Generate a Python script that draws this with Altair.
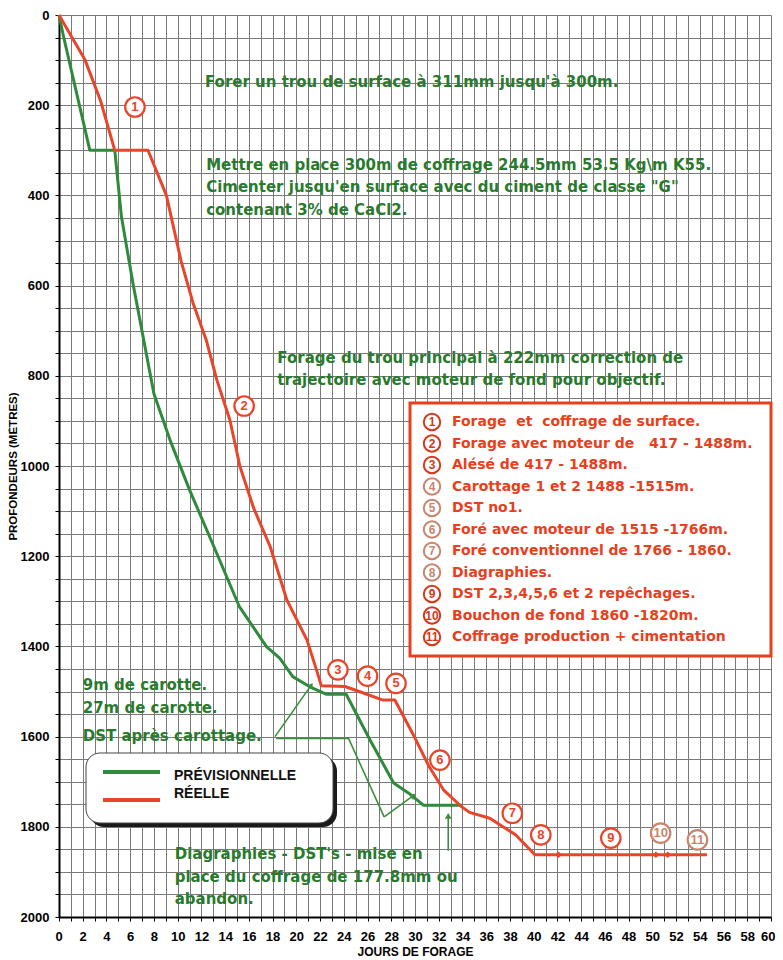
import math
import altair as alt
import pandas as pd

# ---------------- data ----------------
series_names = ["PRÉVISIONNELLE", "RÉELLE"]
series_colors = ["#2e8b3c", "#e8452a"]

green_days = [0, 0.4, 2.6, 4.7, 5.26, 6.23, 8.0, 9.35, 11.0, 13.3, 15.2, 17.5,
              18.6, 19.7, 21.1, 22.5, 24.2, 26.2, 28.2, 29.5, 30.7, 34.0]
green_depth = [0, 50, 300, 300, 447, 595, 840, 942, 1053, 1194, 1312, 1401,
               1426, 1467, 1489, 1506, 1506, 1607, 1703, 1726, 1752, 1752]

red_days = [0, 2.2, 3.5, 4.7, 7.5, 9.05, 10.3, 11.3, 12.4, 13.3, 14.4, 15.25,
            16.4, 17.8, 19.2, 20.9, 21.7, 22.1, 24.1, 25.3, 27.3, 28.3, 29.8,
            31.2, 32.4, 33.9, 34.6, 36.3, 38.5, 40.1, 54.6]
red_depth = [0, 100, 190, 300, 300, 400, 547, 639, 720, 809, 898, 1001,
             1093, 1179, 1297, 1386, 1452, 1487, 1489, 1500, 1519, 1519, 1593,
             1667, 1718, 1755, 1768, 1781, 1818, 1862, 1862]

# markers on the final red segment
red_mark_days = [42.1, 50.3, 51.3]
red_mark_depth = [1862, 1862, 1862]

x_ticks = list(range(0, 61))
y_ticks = list(range(0, 2001, 50))

# circled milestones placed on the chart
milestone_num = [str(i) for i in range(1, 12)]
milestone_day = [6.4, 15.6, 23.5, 26.0, 28.4, 32.1, 38.2, 40.6, 46.5, 50.7, 53.8]
milestone_depth = [204, 867, 1452, 1466, 1482, 1652, 1770, 1818, 1825, 1814, 1829]
milestone_faded = [0, 0, 0, 0, 0, 0, 0, 0, 0, 1, 1]

# notes list (red box)
note_texts = [
    "Forage\u00a0 et\u00a0 coffrage de surface.",
    "Forage avec moteur de\u00a0\u00a0 417 - 1488m.",
    "Alésé de 417 - 1488m.",
    "Carottage 1 et 2 1488 -1515m.",
    "DST no1.",
    "Foré avec moteur de 1515 -1766m.",
    "Foré conventionnel de 1766 - 1860.",
    "Diagraphies.",
    "DST 2,3,4,5,6 et 2 repêchages.",
    "Bouchon de fond 1860 -1820m.",
    "Coffrage production + cimentation",
]
note_faded = [0, 0, 0, 1, 1, 1, 1, 1, 0, 0, 0]

# green comments
green_notes = [
    "Forer un trou de surface à 311mm jusqu'à 300m.",
    "Mettre en place 300m de coffrage 244.5mm 53.5 Kg\\m K55.",
    "Cimenter jusqu'en surface avec du ciment de classe \"G\"",
    "contenant 3% de CaCl2.",
    "Forage du trou principal à 222mm correction de",
    "trajectoire avec moteur de fond pour objectif.",
    "9m de carotte.",
    "27m de carotte.",
    "DST après carottage.",
    "Diagraphies - DST's - mise en",
    "place du coffrage de 177.8mm ou",
    "abandon.",
]
green_note_day = [12.3, 12.4, 12.4, 12.4, 18.4, 18.4, 2.0, 2.0, 2.0, 9.75, 9.75, 9.75]
green_note_depth = [149, 333, 381, 432, 760, 809, 1486, 1537, 1599, 1860, 1911, 1960]

# thin green pointer lines (segment id, day, depth)
ptr_id = [0, 0, 1, 1, 1, 2, 2, 3, 3]
ptr_day = [18.2, 21.2, 18.3, 24.4, 27.4, 27.4, 29.8, 32.8, 32.8]
ptr_depth = [1600, 1488, 1604, 1604, 1778, 1778, 1732, 1853, 1778]

# ---------------- layout ----------------
W, H = 712, 902
X_MAX, Y_MAX = 60, 2000
PX_DAY = W / X_MAX
PX_M = H / Y_MAX
FONT = "Liberation Sans"
WIDE = "DejaVu Sans"
GREEN_TXT = "#2a7a2e"
RED = "#e8452a"
RED_FADED = "#c9856e"

x_enc = alt.X("day:Q", scale=alt.Scale(domain=[0, X_MAX], nice=False, zero=False),
              axis=alt.Axis(values=x_ticks, format="d", labelFlush=True, labelFlushOffset=4,
                            labelOverlap=False,
                            labelExpr="datum.value % 2 === 0 ? datum.label : ''",
                            title="JOURS DE FORAGE", titleFontSize=12, titleFontWeight="bold",
                            titleFont=FONT, titlePadding=3, titleColor="black",
                            labelFont=FONT, labelFontSize=13, labelFontWeight="bold",
                            labelColor="black", labelPadding=9, tickSize=4,
                            tickColor="black", domainColor="black", domainWidth=2,
                            grid=True, gridColor="#7a7a7a", gridWidth=1))
y_enc = alt.Y("depth:Q", scale=alt.Scale(domain=[0, Y_MAX], reverse=True, nice=False, zero=False),
              axis=alt.Axis(values=y_ticks, format="d", labelFlush=False, labelOverlap=False,
                            labelExpr="datum.value % 200 === 0 ? datum.label : ''",
                            title="PROFONDEURS (MÈTRES)", titleFontSize=11.5, titleFontWeight="bold",
                            titleFont=FONT, titlePadding=2, titleColor="black",
                            labelFont=FONT, labelFontSize=13, labelFontWeight="bold",
                            labelColor="black", labelPadding=6, tickSize=4,
                            tickColor="black", domainColor="black", domainWidth=2,
                            grid=True, gridColor="#7a7a7a", gridWidth=1))

# main series
rows = []
for name, days, depths in [(series_names[0], green_days, green_depth),
                           (series_names[1], red_days, red_depth)]:
    for i, (d, z) in enumerate(zip(days, depths)):
        rows.append({"serie": name, "day": d, "depth": z, "idx": i})
df_series = pd.DataFrame(rows)

color_scale = alt.Scale(domain=series_names, range=series_colors)

lines = alt.Chart(df_series).mark_line(strokeWidth=3, strokeJoin="round").encode(
    x=x_enc, y=y_enc,
    color=alt.Color("serie:N", scale=color_scale, legend=None),
    order="idx:Q",
)

# pointer lines and arrowheads
df_ptr = pd.DataFrame({"seg": ptr_id, "day": ptr_day, "depth": ptr_depth,
                       "idx": list(range(len(ptr_id)))})
ptr_lines = alt.Chart(df_ptr).mark_line(strokeWidth=1.6, color="#3a8f3e").encode(
    x=x_enc, y=y_enc, detail="seg:N", order="idx:Q")

heads = []
for seg in [0, 2, 3]:
    pts = [(d, z) for s, d, z in zip(ptr_id, ptr_day, ptr_depth) if s == seg]
    (d0, z0), (d1, z1) = pts[-2], pts[-1]
    dx = (d1 - d0) * PX_DAY
    dy = (z1 - z0) * PX_M
    ang = math.degrees(math.atan2(dx, -dy)) % 360
    heads.append({"day": d1, "depth": z1, "angle": ang})
df_heads = pd.DataFrame(heads)
arrowheads = alt.Chart(df_heads).mark_point(shape="triangle", filled=True, size=45,
                                            color="#3a8f3e", opacity=1).encode(
    x=x_enc, y=y_enc, angle=alt.Angle("angle:Q", scale=None))

df_rmarks = pd.DataFrame({"day": red_mark_days, "depth": red_mark_depth})
red_marks = alt.Chart(df_rmarks).mark_point(shape="diamond", filled=True, size=45,
                                            color=RED, opacity=1).encode(x=x_enc, y=y_enc)

# green comment texts
df_gn = pd.DataFrame({"day": green_note_day, "depth": green_note_depth, "t": green_notes})
green_text = alt.Chart(df_gn).mark_text(align="left", baseline="middle", font=WIDE,
                                        fontSize=15, fontWeight="bold",
                                        color=GREEN_TXT).encode(x=x_enc, y=y_enc, text="t:N")

# milestones on chart
fade_scale = alt.Scale(domain=[0, 1], range=[RED, RED_FADED])
df_ms = pd.DataFrame({"day": milestone_day, "depth": milestone_depth, "n": milestone_num,
                      "faded": milestone_faded})
ms_circles = alt.Chart(df_ms).mark_point(shape="circle", size=380, filled=False,
                                         strokeWidth=2.2, fill="white", fillOpacity=1,
                                         opacity=1).encode(
    x=x_enc, y=y_enc, stroke=alt.Stroke("faded:N", scale=fade_scale, legend=None))
ms_text = alt.Chart(df_ms).mark_text(font=FONT, fontSize=13, fontWeight="bold",
                                     baseline="middle", align="center").encode(
    x=x_enc, y=y_enc, text="n:N", color=alt.Color("faded:N", scale=fade_scale, legend=None))

# notes box (pixel layout relative to plot area)
BOX_X0, BOX_X1, BOX_Y0, BOX_Y1 = 351, 712, 388, 641
df_box = pd.DataFrame({"x0": [BOX_X0], "x1": [BOX_X1], "y0": [BOX_Y0], "y1": [BOX_Y1]})
note_box = alt.Chart(df_box).mark_rect(fill="white", stroke="#e8401c", strokeWidth=3).encode(
    x=alt.X("x0:Q", scale=None), x2="x1:Q", y=alt.Y("y0:Q", scale=None), y2="y1:Q")

note_scale = alt.Scale(domain=[0, 1], range=["#d43a1a", RED_FADED])
df_notes = pd.DataFrame({
    "n": milestone_num,
    "t": note_texts,
    "faded": note_faded,
    "cx": [373] * len(note_texts),
    "tx": [393] * len(note_texts),
    "py": [407 + 21.5 * i for i in range(len(note_texts))],
})
note_circles = alt.Chart(df_notes).mark_point(shape="circle", size=270, filled=False,
                                              strokeWidth=2, fill="white", fillOpacity=1,
                                              opacity=1).encode(
    x=alt.X("cx:Q", scale=None), y=alt.Y("py:Q", scale=None),
    stroke=alt.Stroke("faded:N", scale=note_scale, legend=None))
note_nums = alt.Chart(df_notes).mark_text(font=FONT, fontSize=12, fontWeight="bold",
                                          baseline="middle", align="center").encode(
    x=alt.X("cx:Q", scale=None), y=alt.Y("py:Q", scale=None), text="n:N",
    color=alt.Color("faded:N", scale=note_scale, legend=None))
note_txt = alt.Chart(df_notes).mark_text(font=WIDE, fontSize=14, fontWeight="bold",
                                         baseline="middle", align="left", color="#e8401c").encode(
    x=alt.X("tx:Q", scale=None), y=alt.Y("py:Q", scale=None), text="t:N")

# manual legend (rounded box with shadow)
LG_X0, LG_X1, LG_Y0, LG_Y1 = 27, 274, 738, 808
df_lg_shadow = pd.DataFrame({"x0": [LG_X0 + 4], "x1": [LG_X1 + 4], "y0": [LG_Y0 + 4], "y1": [LG_Y1 + 4]})
df_lg_box = pd.DataFrame({"x0": [LG_X0], "x1": [LG_X1], "y0": [LG_Y0], "y1": [LG_Y1]})
lg_shadow = alt.Chart(df_lg_shadow).mark_rect(fill="#1a1a1a", cornerRadius=14).encode(
    x=alt.X("x0:Q", scale=None), x2="x1:Q", y=alt.Y("y0:Q", scale=None), y2="y1:Q")
lg_box = alt.Chart(df_lg_box).mark_rect(fill="white", stroke="#444", strokeWidth=1,
                                        cornerRadius=14).encode(
    x=alt.X("x0:Q", scale=None), x2="x1:Q", y=alt.Y("y0:Q", scale=None), y2="y1:Q")
df_lg = pd.DataFrame({"serie": series_names, "lx0": [44, 44], "lx1": [101, 101],
                      "ly": [757, 785], "tx": [115, 115], "ty": [761, 779]})
lg_lines = alt.Chart(df_lg).mark_rule(strokeWidth=4).encode(
    x=alt.X("lx0:Q", scale=None), x2="lx1:Q", y=alt.Y("ly:Q", scale=None),
    color=alt.Color("serie:N", scale=color_scale, legend=None))
lg_text = alt.Chart(df_lg).mark_text(font=FONT, fontSize=14, fontWeight="bold", color="#111",
                                     align="left", baseline="middle").encode(
    x=alt.X("tx:Q", scale=None), y=alt.Y("ty:Q", scale=None), text="serie:N")

chart = alt.layer(
    lines, ptr_lines, arrowheads, red_marks, green_text,
    note_box, note_circles, note_nums, note_txt,
    lg_shadow, lg_box, lg_lines, lg_text,
    ms_circles, ms_text,
).resolve_scale(color="independent", stroke="independent").properties(
    width=W, height=H,
    autosize="none",
    padding={"left": 51, "top": 7, "right": 4, "bottom": 48},
    background="white",
).configure_view(stroke=None)

chart.save("out.html", embed_options={"renderer": "svg", "actions": False})
